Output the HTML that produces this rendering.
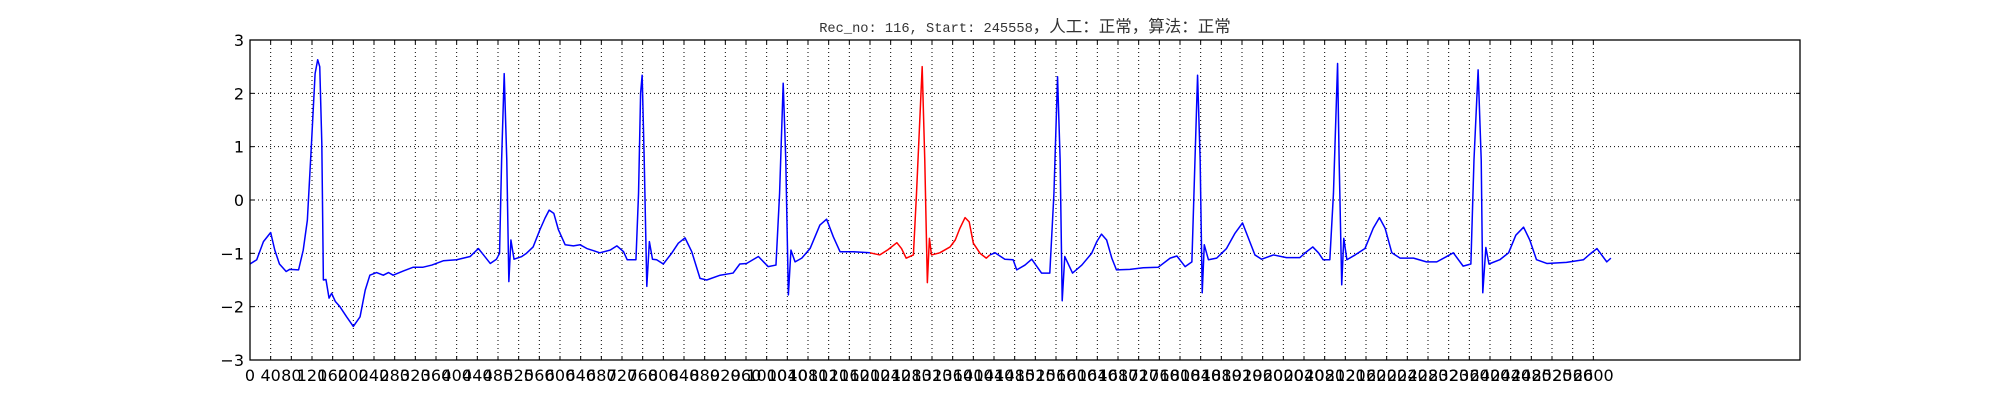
<!DOCTYPE html>
<html><head><meta charset="utf-8">
<style>
html,body{margin:0;padding:0;background:#fff;}
svg{display:block;}
</style></head>
<body>
<svg id="chart" width="2000" height="400" viewBox="0 0 2000 400" xmlns="http://www.w3.org/2000/svg">
<rect width="2000" height="400" fill="#fff"/>
<text x="1025" y="32" text-anchor="middle" fill="#333" font-family="'Liberation Mono','Noto Sans CJK SC',monospace" font-size="13.7">Rec_no: 116, Start: 245558<tspan font-size="16.5" font-family="'Liberation Sans','Noto Sans CJK SC',sans-serif">，人工：正常，算法：正常</tspan></text>
<g id="grid"></g>
<g id="series"></g>
<g id="axes"></g>
</svg>
<script>
const sampleIdx = [0,13,26,40,48,57,70,77,94,103,111,119,126,131,135,139,142,147,153,158,165,174,187,200,213,223,232,245,258,268,277,297,316,335,352,374,400,426,442,452,465,477,483,487,492,497,501,505,511,526,535,548,561,571,579,588,597,610,626,639,652,665,677,697,710,723,730,747,752,756,759,763,768,773,779,787,800,816,829,842,855,871,884,910,935,948,961,984,1003,1018,1025,1032,1037,1042,1047,1055,1068,1084,1103,1116,1129,1142,1168,1200,1219,1235,1252,1261,1270,1284,1290,1301,1306,1311,1315,1319,1335,1355,1365,1374,1384,1392,1400,1413,1425,1432,1442,1461,1477,1484,1500,1513,1532,1548,1556,1563,1568,1572,1577,1592,1610,1629,1639,1648,1658,1668,1677,1703,1729,1758,1781,1794,1810,1823,1829,1834,1839,1843,1847,1855,1871,1890,1906,1921,1935,1945,1958,1981,2006,2032,2045,2057,2068,2077,2090,2097,2105,2108,2113,2117,2123,2139,2158,2174,2186,2197,2210,2226,2252,2277,2297,2316,2329,2348,2363,2369,2377,2383,2386,2392,2398,2419,2436,2450,2465,2477,2490,2510,2548,2581,2594,2607,2626,2634];
const ecgValues = [-1.2,-1.12,-0.78,-0.61,-0.94,-1.2,-1.34,-1.3,-1.31,-0.94,-0.38,1.06,2.37,2.63,2.5,1.06,-1.5,-1.49,-1.84,-1.75,-1.9,-2.0,-2.19,-2.37,-2.19,-1.69,-1.41,-1.36,-1.41,-1.36,-1.41,-1.33,-1.26,-1.26,-1.22,-1.14,-1.12,-1.06,-0.91,-1.03,-1.19,-1.11,-1.0,0.75,2.37,0.75,-1.53,-0.75,-1.11,-1.06,-1.0,-0.88,-0.56,-0.34,-0.19,-0.25,-0.56,-0.84,-0.86,-0.84,-0.91,-0.95,-0.99,-0.94,-0.86,-0.97,-1.12,-1.12,0.12,2.0,2.34,0.75,-1.62,-0.78,-1.11,-1.12,-1.2,-1.0,-0.81,-0.71,-0.97,-1.47,-1.5,-1.41,-1.37,-1.2,-1.19,-1.06,-1.25,-1.22,0.12,2.19,0.75,-1.78,-0.94,-1.16,-1.09,-0.91,-0.47,-0.36,-0.69,-0.97,-0.97,-0.99,-1.03,-0.93,-0.8,-0.91,-1.09,-1.03,0.12,2.5,0.75,-1.55,-0.72,-1.03,-0.99,-0.88,-0.75,-0.53,-0.33,-0.41,-0.81,-1.0,-1.09,-1.03,-0.99,-1.11,-1.12,-1.31,-1.22,-1.11,-1.37,-1.37,0.12,2.31,0.75,-1.89,-1.06,-1.37,-1.22,-1.0,-0.78,-0.64,-0.75,-1.09,-1.31,-1.3,-1.27,-1.26,-1.09,-1.05,-1.25,-1.16,0.75,2.34,0.75,-1.74,-0.84,-1.12,-1.09,-0.91,-0.63,-0.43,-0.78,-1.03,-1.11,-1.03,-1.08,-1.08,-0.97,-0.88,-0.99,-1.12,-1.12,0.12,2.56,0.75,-1.59,-0.72,-1.12,-1.03,-0.91,-0.53,-0.33,-0.53,-0.99,-1.09,-1.09,-1.16,-1.16,-1.06,-0.99,-1.24,-1.2,0.75,2.44,0.75,-1.74,-0.89,-1.2,-1.12,-0.99,-0.66,-0.51,-0.75,-1.12,-1.19,-1.17,-1.12,-1.01,-0.91,-1.16,-1.09];
const highlightRange = [1200, 1432];
const xTicks = [];
for (let t = 0; t <= 2600; t += 40) xTicks.push(t);
const yTicks = [-3,-2,-1,0,1,2,3];
const yTickLabels = ["\u22123","\u22122","\u22121","0","1","2","3"];

const L=250,R=1800,T=40,B=360,XMAX=3000,YMIN=-3,YMAX=3;
const xs = v => L + (v/XMAX)*(R-L);
const ys = v => B - (v-YMIN)/(YMAX-YMIN)*(B-T);
const NS="http://www.w3.org/2000/svg";
function mk(tag, attrs, parent){const e=document.createElementNS(NS,tag);for(const k in attrs)e.setAttribute(k,attrs[k]);parent.appendChild(e);return e;}
const grid=document.getElementById('grid'), series=document.getElementById('series'), axes=document.getElementById('axes');

xTicks.forEach(t=>{
  const x=xs(t);
  const g=mk('line',{x1:x,x2:x,y1:T,y2:B,stroke:'#000','stroke-width':1,'stroke-dasharray':'1,3'},grid);
  
  
  const tk=mk('line',{x1:x,x2:x,y1:B,y2:B-4,stroke:'#000','stroke-width':1},axes);
  
  
  const tk2=mk('line',{x1:x,x2:x,y1:T,y2:T+4,stroke:'#000','stroke-width':1},axes);
  
  
  const lb=mk('text',{x:x,y:B+21,'text-anchor':'middle','font-family':"'DejaVu Sans','Liberation Sans',sans-serif",'font-size':16,fill:'#000'},axes);
  lb.textContent=String(t);
  
  
});
yTicks.forEach((t,i)=>{
  const y=ys(t);
  const g=mk('line',{x1:L,x2:R,y1:y,y2:y,stroke:'#000','stroke-width':1,'stroke-dasharray':'1,3'},grid);
  
  
  const tk=mk('line',{x1:L,x2:L+4,y1:y,y2:y,stroke:'#000','stroke-width':1},axes);
  
  
  const tk2=mk('line',{x1:R,x2:R-4,y1:y,y2:y,stroke:'#000','stroke-width':1},axes);
  
  
  const lb=mk('text',{x:L-6,y:y+6,'text-anchor':'end','font-family':"'DejaVu Sans','Liberation Sans',sans-serif",'font-size':16,fill:'#000'},axes);
  lb.textContent=yTickLabels[i];
  
  
});
const frame=mk('rect',{x:L,y:T,width:R-L,height:B-T,fill:'none',stroke:'#000','stroke-width':1.3},axes);



function pathFor(filter){
  let d='';
  sampleIdx.forEach((s,i)=>{ if(filter(s)) d += (d?'L':'M') + xs(s).toFixed(2)+','+ys(ecgValues[i]).toFixed(2); });
  return d;
}
const b1=mk('path',{d:pathFor(s=>s<=highlightRange[0]),fill:'none',stroke:'#0000ff','stroke-width':1.5,'stroke-linejoin':'round'},series);


const b2=mk('path',{d:pathFor(s=>s>=highlightRange[1]),fill:'none',stroke:'#0000ff','stroke-width':1.5,'stroke-linejoin':'round'},series);


const rd=mk('path',{d:pathFor(s=>s>=highlightRange[0]&&s<=highlightRange[1]),fill:'none',stroke:'#ff0000','stroke-width':1.5,'stroke-linejoin':'round'},series);


</script>
</body></html>
